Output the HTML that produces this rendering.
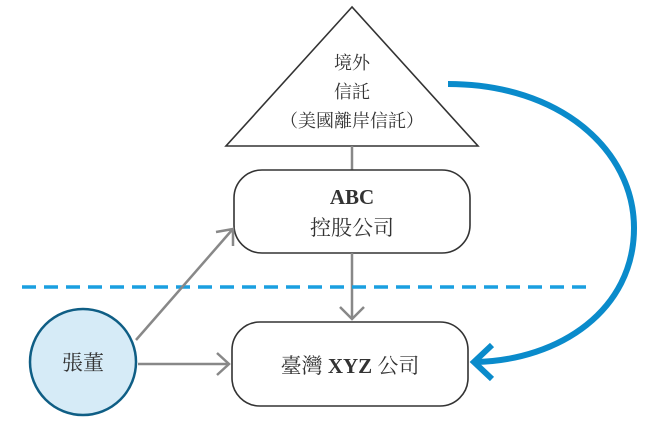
<!DOCTYPE html>
<html><head><meta charset="utf-8"><style>
body{margin:0;background:#fff;}
svg{display:block}
text{font-family:"Liberation Serif","Noto Serif CJK SC","Noto Sans CJK TC",serif;fill:#333;}
</style></head><body>
<svg width="651" height="433" viewBox="0 0 651 433">
<polygon points="352,7 226,146 478,146" fill="#fff" stroke="#333" stroke-width="1.6"/>
<text x="352" y="69" font-size="18" text-anchor="middle">境外</text>
<text x="352" y="98" font-size="18" text-anchor="middle">信託</text>
<text x="352" y="127" font-size="18" text-anchor="middle">（美國離岸信託）</text>
<line x1="352" y1="146" x2="352" y2="170" stroke="#888" stroke-width="2.5"/>
<rect x="234" y="170" width="236" height="83" rx="28" fill="#fff" stroke="#333" stroke-width="1.6"/>
<text x="352" y="204" font-size="21" font-weight="bold" text-anchor="middle">ABC</text>
<text x="352" y="235" font-size="21" text-anchor="middle">控股公司</text>
<line x1="352" y1="253" x2="352" y2="318" stroke="#888" stroke-width="2.5"/>
<polyline points="340,307 352,319 364,307" fill="none" stroke="#888" stroke-width="2.5"/>
<line x1="22" y1="287" x2="590" y2="287" stroke="#1a9fe0" stroke-width="3.5" stroke-dasharray="14,8"/>
<rect x="232" y="322" width="236" height="84" rx="28" fill="#fff" stroke="#333" stroke-width="1.6"/>
<text x="350" y="373" font-size="21" text-anchor="middle">臺灣 <tspan font-weight="bold">XYZ</tspan> 公司</text>
<line x1="136" y1="340" x2="232" y2="230" stroke="#888" stroke-width="2.5"/>
<polyline points="216,232 233,229 233,246" fill="none" stroke="#888" stroke-width="2.5"/>
<line x1="138" y1="364" x2="229" y2="364" stroke="#888" stroke-width="2.5"/>
<polyline points="217,353 229,364 217,375" fill="none" stroke="#888" stroke-width="2.5"/>
<circle cx="83" cy="362" r="53" fill="#d6ebf7" stroke="#0f5e85" stroke-width="2.5"/>
<text x="83" y="370" font-size="21" text-anchor="middle" font-family="Liberation Sans,Noto Sans CJK TC,sans-serif">張董</text>
<path d="M448,84 C560,84 634,150 634,228 C634,310 560,360 476,362" fill="none" stroke="#0a8bcb" stroke-width="6"/>
<polyline points="492,345 474,362 492,379" fill="none" stroke="#0a8bcb" stroke-width="6"/>
</svg>
</body></html>
